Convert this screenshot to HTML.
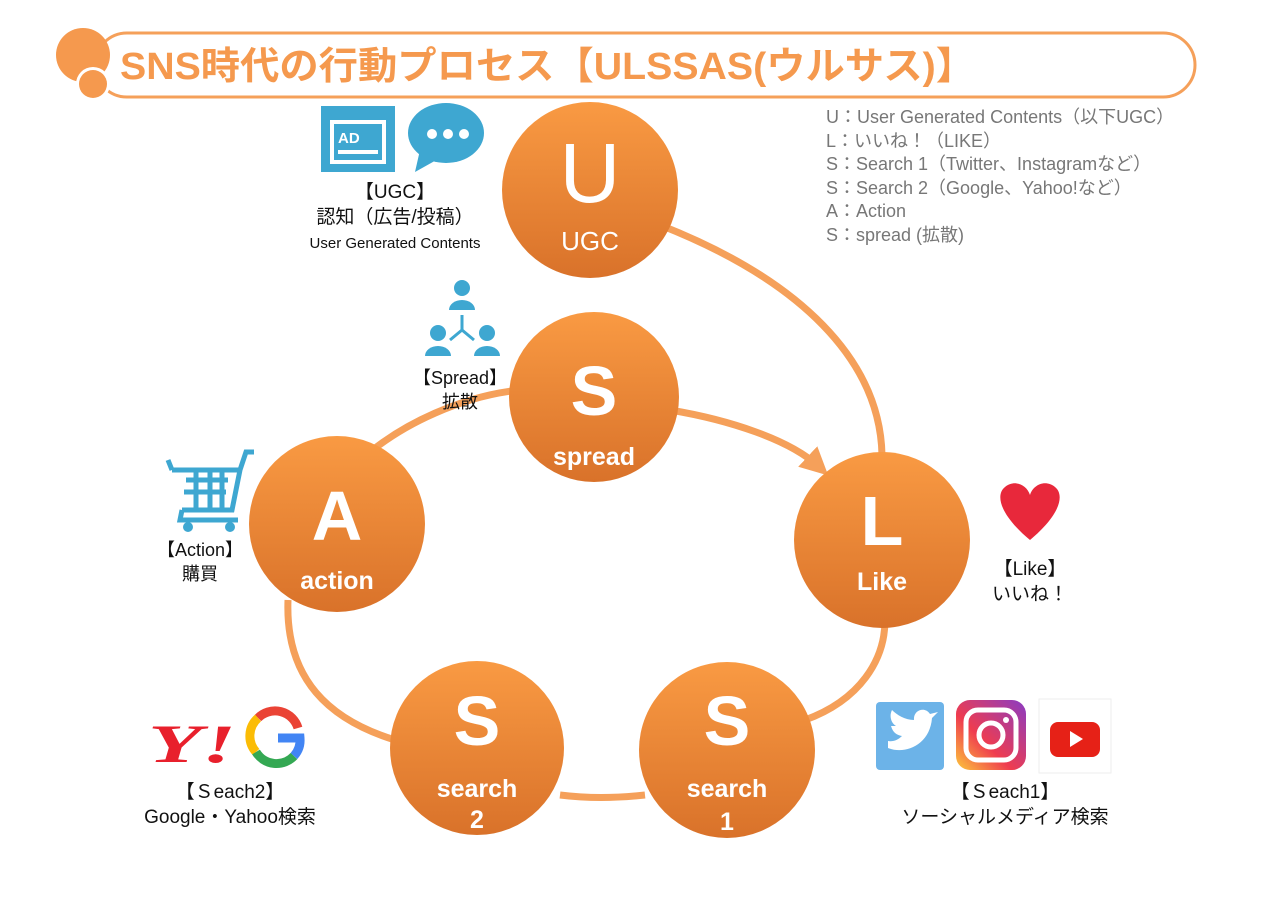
<!DOCTYPE html>
<html><head><meta charset="utf-8"><style>
body{margin:0;background:#fff;width:1280px;height:899px;overflow:hidden;position:relative;font-family:"Liberation Sans","Noto Sans CJK JP",sans-serif}
.t{position:absolute;text-align:center;color:#111;white-space:nowrap}
.leg{position:absolute;left:826px;top:106px;color:#777;font-size:18px;line-height:23.5px}
</style></head><body>
<svg width="1280" height="899" style="position:absolute;left:0;top:0">
<defs>
<linearGradient id="g" x1="0" y1="0" x2="0" y2="1"><stop offset="0" stop-color="#f99a43"/><stop offset="1" stop-color="#d9722a"/></linearGradient>
<linearGradient id="ig" x1="0" y1="1" x2="1" y2="0"><stop offset="0" stop-color="#fdc93b"/><stop offset=".4" stop-color="#ef3c4f"/><stop offset="1" stop-color="#8a3bc4"/></linearGradient>
<marker id="ah" markerWidth="4" markerHeight="4" refX="2" refY="2" orient="auto"><path d="M0,0L4,2L0,4z" fill="#f5a05a"/></marker>
</defs>
<rect x="95" y="33" width="1100" height="64" rx="32" fill="none" stroke="#f5a05a" stroke-width="3"/>
<circle cx="83" cy="55" r="27" fill="#f5994e"/>
<circle cx="93" cy="84" r="17" fill="#fff"/>
<circle cx="93" cy="84" r="14" fill="#f5994e"/>
<text x="120" y="79" font-size="38" font-weight="bold" fill="#f5994e" textLength="855" lengthAdjust="spacingAndGlyphs" font-family="Liberation Sans,Noto Sans CJK JP,sans-serif">SNS時代の行動プロセス【ULSSAS(ウルサス)】</text>
<g fill="none" stroke="#f5a05a" stroke-width="7">
<path d="M660,225 C800,280 880,360 882,455"/>
<path d="M350,470 C400,420 470,395 520,390"/>
<path d="M670,410 C730,420 790,440 818,466" marker-end="url(#ah)"/>
<path d="M885,620 C885,660 860,700 805,720"/>
<path d="M560,795 Q600,800 645,795"/>
<path d="M288,600 C285,680 330,720 395,740"/>
</g>
<g fill="url(#g)">
<circle cx="590" cy="190" r="88"/><circle cx="594" cy="397" r="85"/>
<circle cx="882" cy="540" r="88"/><circle cx="337" cy="524" r="88"/>
<circle cx="477" cy="748" r="87"/><circle cx="727" cy="750" r="88"/>
</g>
<g fill="#fff" text-anchor="middle" font-family="Liberation Sans,sans-serif">
<text x="590" y="202" font-size="84">U</text><text x="590" y="250" font-size="26">UGC</text>
<text x="594" y="415" font-size="70" font-weight="bold">S</text><text x="594" y="465" font-size="25" font-weight="bold">spread</text>
<text x="882" y="545" font-size="70" font-weight="bold">L</text><text x="882" y="590" font-size="25" font-weight="bold">Like</text>
<text x="337" y="540" font-size="70" font-weight="bold">A</text><text x="337" y="589" font-size="25" font-weight="bold">action</text>
<text x="477" y="745" font-size="70" font-weight="bold">S</text><text x="477" y="797" font-size="25" font-weight="bold">search</text><text x="477" y="828" font-size="25" font-weight="bold">2</text>
<text x="727" y="745" font-size="70" font-weight="bold">S</text><text x="727" y="797" font-size="25" font-weight="bold">search</text><text x="727" y="830" font-size="25" font-weight="bold">1</text>
</g>
<rect x="321" y="106" width="74" height="66" fill="#3ea7d1"/>
<rect x="330" y="120" width="56" height="44" fill="#fff"/>
<rect x="334" y="124" width="48" height="36" fill="#3ea7d1"/>
<text x="338" y="143" font-size="15" font-weight="bold" fill="#fff" font-family="Liberation Sans">AD</text>
<rect x="338" y="150" width="40" height="4" fill="#fff"/>
<ellipse cx="446" cy="133" rx="38" ry="30" fill="#3ea7d1"/>
<path d="M420,150 L415,172 L440,158z" fill="#3ea7d1"/>
<circle cx="432" cy="134" r="5" fill="#fff"/><circle cx="448" cy="134" r="5" fill="#fff"/><circle cx="464" cy="134" r="5" fill="#fff"/>
<g fill="#3ea7d1"><circle cx="462" cy="288" r="8"/><path d="M449,310 a13,10 0 0 1 26,0z"/>
<circle cx="438" cy="333" r="8"/><path d="M425,356 a13,10 0 0 1 26,0z"/>
<circle cx="487" cy="333" r="8"/><path d="M474,356 a13,10 0 0 1 26,0z"/></g>
<path d="M462,315 L462,330 M462,330 L450,340 M462,330 L474,340" stroke="#3ea7d1" stroke-width="3" fill="none"/>
<g stroke="#3ea7d1" stroke-width="5" fill="none"><path d="M172,470 L240,470 L232,510 L182,510 M172,470 L168,460 M240,470 L246,452 L254,452"/>
<path d="M186,480 L228,480 M184,492 L226,492 M196,470 L196,510 M210,470 L210,510 M222,470 L222,510"/><path d="M182,510 L180,520 L238,520"/></g>
<circle cx="188" cy="527" r="5" fill="#3ea7d1"/><circle cx="230" cy="527" r="5" fill="#3ea7d1"/>
<path d="M1030,540 C1000,515 995,495 1005,487 C1015,479 1027,485 1030,495 C1033,485 1045,479 1055,487 C1065,495 1060,515 1030,540z" fill="#e8283b"/>
<rect x="876" y="702" width="68" height="68" rx="4" fill="#6cb3e8"/>
<path d="M888,748 C905,755 930,745 932,718 L938,712 L930,714 C925,706 913,710 914,720 C905,720 897,715 892,710 C889,716 891,723 896,726 L891,726 C893,733 897,735 902,736 C898,740 893,742 888,741z" fill="#fff"/>
<rect x="956" y="700" width="70" height="70" rx="14" fill="url(#ig)"/>
<rect x="966" y="710" width="50" height="50" rx="12" fill="none" stroke="#fff" stroke-width="5"/>
<circle cx="991" cy="735" r="12" fill="none" stroke="#fff" stroke-width="5"/><circle cx="1006" cy="720" r="3" fill="#fff"/>
<rect x="1039" y="699" width="72" height="74" fill="#fff" stroke="#eee"/>
<rect x="1050" y="722" width="50" height="35" rx="8" fill="#e62117"/><path d="M1070,731 L1083,739 L1070,747z" fill="#fff"/>
<text x="148" y="762" font-size="54" font-weight="bold" font-style="italic" fill="#e8202c" textLength="88" lengthAdjust="spacingAndGlyphs" font-family="Liberation Serif,serif">Y!</text>
<g fill="none" stroke-width="9"><path d="M298,728 A24,24 0 0 0 258,718" stroke="#ea4335"/><path d="M258,718 A24,24 0 0 0 256,752" stroke="#fbbc05"/><path d="M256,752 A24,24 0 0 0 294,756" stroke="#34a853"/><path d="M294,756 A24,24 0 0 0 300,738 L278,738" stroke="#4285f4"/></g>
</svg>
<div class="t" style="left:290px;top:180px;width:210px;font-size:19px;line-height:25px">【UGC】<br>認知（広告/投稿）<br><span style="font-size:15px">User Generated Contents</span></div>
<div class="t" style="left:400px;top:366px;width:120px;font-size:18px;line-height:24px">【Spread】<br>拡散</div>
<div class="t" style="left:145px;top:538px;width:110px;font-size:18px;line-height:24px">【Action】<br>購買</div>
<div class="t" style="left:975px;top:557px;width:110px;font-size:19px;line-height:25px">【Like】<br>いいね！</div>
<div class="t" style="left:110px;top:780px;width:240px;font-size:19px;line-height:25px">【Ｓeach2】<br>Google・Yahoo検索</div>
<div class="t" style="left:870px;top:780px;width:270px;font-size:19px;line-height:25px">【Ｓeach1】<br>ソーシャルメディア検索</div>
<div class="leg">U：User Generated Contents（以下UGC）<br>L：いいね！（LIKE）<br>S：Search 1（Twitter、Instagramなど）<br>S：Search 2（Google、Yahoo!など）<br>A：Action<br>S：spread (拡散)</div>
</body></html>
